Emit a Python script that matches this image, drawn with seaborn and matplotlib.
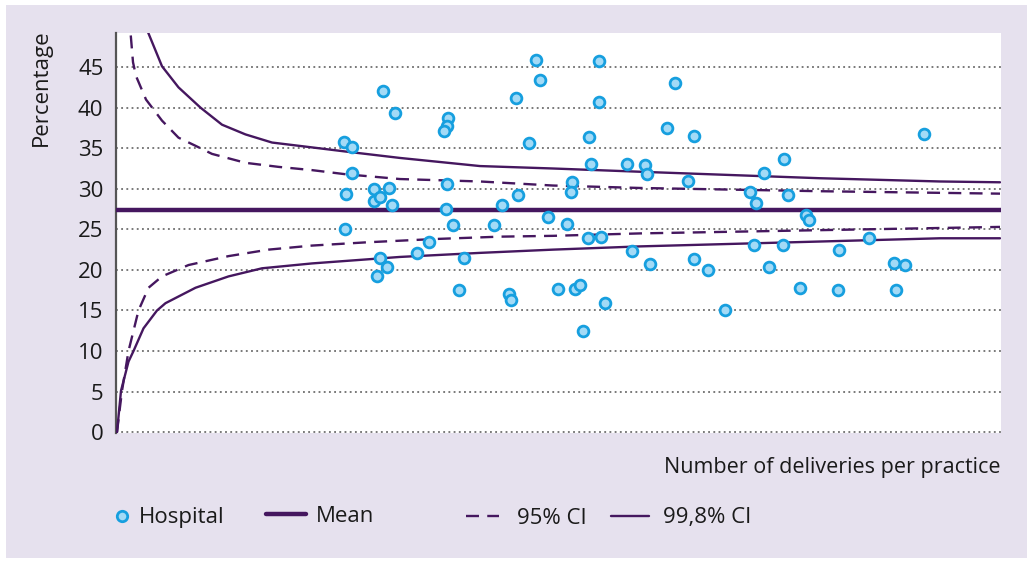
import matplotlib
matplotlib.use("Agg")
import matplotlib.pyplot as plt
import seaborn as sns
import pandas as pd
from matplotlib.lines import Line2D
from matplotlib.patches import Rectangle

# hospital points: deliveries per practice (x) and percentage (y)
hosp_x = [456, 472, 472, 460, 516, 546, 516, 528, 552, 457, 534, 558, 528, 542, 522,
          602, 626, 664, 662, 655, 662, 660, 674, 696, 686, 756, 772, 804, 799, 825,
          839, 847, 785, 789, 863, 884, 902, 912, 909, 917, 928, 933, 943, 945, 949,
          965, 966, 969, 978, 1021, 1031, 1058, 1061, 1068, 1101, 1118, 1144, 1155,
          1156, 1183, 1218, 1267, 1279, 1275, 1295, 1306, 1333, 1336, 1344, 1367,
          1380, 1385, 1445, 1443, 1505, 1555, 1577, 1559, 1615]
hosp_y = [35.8, 35.2, 31.9, 29.4, 30.0, 30.1, 28.5, 29.0, 28.0, 25.0, 42.1, 39.4, 21.5,
          20.4, 19.2, 22.1, 23.4, 38.7, 37.7, 37.1, 30.6, 27.5, 25.5, 21.5, 17.5, 25.5,
          28.0, 29.2, 41.2, 35.6, 45.9, 43.4, 17.0, 16.3, 26.5, 17.7, 25.6, 30.8, 29.6,
          17.7, 18.2, 12.5, 23.9, 36.4, 33.1, 45.7, 40.7, 24.1, 15.9, 33.1, 22.3, 32.9,
          31.8, 20.7, 37.5, 43.0, 30.9, 36.5, 21.3, 20.0, 15.1, 29.6, 28.2, 23.1, 32.0,
          20.3, 23.1, 33.7, 29.2, 17.8, 26.8, 26.1, 22.4, 17.5, 23.9, 20.9, 20.6, 17.5,
          36.7]

mean_pct = 27.4

# control limits
up998_x = [50, 64, 92, 125, 169, 212, 259, 312, 392, 458, 568, 728, 874, 1048, 1228,
           1408, 1648, 1768]
up998_y = [51.5, 49.3, 45.1, 42.5, 40.0, 37.9, 36.7, 35.7, 35.1, 34.6, 33.8, 32.8, 32.5,
           32.1, 31.7, 31.3, 30.9, 30.8]
up95_x = [25, 29, 34, 40, 60, 92, 125, 159, 192, 259, 325, 392, 458, 568, 728, 874,
          1048, 1228, 1408, 1768]
up95_y = [51.5, 49.3, 45.6, 43.9, 41.0, 38.4, 36.3, 35.3, 34.3, 33.2, 32.7, 32.3, 31.8,
          31.2, 30.9, 30.4, 30.1, 29.9, 29.7, 29.4]
lo95_x = [2, 7, 12, 25, 45, 65, 92, 145, 225, 305, 392, 501, 634, 768, 874, 1048, 1228,
          1408, 1768]
lo95_y = [0.0, 2.6, 5.1, 10.0, 15.0, 17.8, 19.2, 20.6, 21.7, 22.5, 23.0, 23.4, 23.8,
          24.1, 24.2, 24.5, 24.7, 24.9, 25.3]
lo998_x = [2, 10, 25, 35, 55, 82, 99, 159, 225, 292, 392, 568, 728, 874, 1048, 1228,
           1408, 1648, 1768]
lo998_y = [0.0, 5.1, 8.7, 10.0, 12.8, 15.0, 15.9, 17.8, 19.2, 20.2, 20.8, 21.6, 22.1,
           22.5, 22.9, 23.2, 23.5, 23.9, 23.9]

yticks = [0, 5, 10, 15, 20, 25, 30, 35, 40, 45]

purple = "#45175f"
pt_face = "#a3daf6"
pt_edge = "#169fdf"
panel = "#e6e1ee"
txt = "#1a1a1a"

sns.set_theme(style="white")
plt.rcParams["font.family"] = ["Open Sans", "DejaVu Sans"]
fs = 16

fig = plt.figure(figsize=(10.33, 5.62), dpi=100)
fig.patch.set_facecolor("white")
fig.patches.append(Rectangle((6 / 1033, 1 - 558 / 562), 1021 / 1033, 553 / 562,
                             transform=fig.transFigure, facecolor=panel,
                             edgecolor="none", zorder=-10))
ax = fig.add_axes([116 / 1033, 1 - 433 / 562, 885 / 1033, 400 / 562])
ax.set_facecolor("white")

ax.set_xlim(0, 1770)
ax.set_ylim(-0.1, 49.2)
ax.set_yticks(yticks)
ax.set_xticks([])
for t in yticks:
    ax.axhline(t, color="#555555", lw=1.1, ls=(0, (1.2, 2.2)), zorder=1)

lw_ci = 1.7
dash = (5.5, 3.5)
sns.lineplot(x=up998_x, y=up998_y, ax=ax, color=purple, lw=lw_ci, sort=False,
             estimator=None, zorder=3)
sns.lineplot(x=lo998_x, y=lo998_y, ax=ax, color=purple, lw=lw_ci, sort=False,
             estimator=None, zorder=3)
sns.lineplot(x=up95_x, y=up95_y, ax=ax, color=purple, lw=lw_ci, sort=False,
             estimator=None, zorder=3)
ax.lines[-1].set_dashes(dash)
sns.lineplot(x=lo95_x, y=lo95_y, ax=ax, color=purple, lw=lw_ci, sort=False,
             estimator=None, zorder=3)
ax.lines[-1].set_dashes(dash)
ax.axhline(mean_pct, color=purple, lw=3.2, zorder=4)

df = pd.DataFrame({"n": hosp_x, "pct": hosp_y})
sns.scatterplot(data=df, x="n", y="pct", ax=ax, s=60, color=pt_face,
                edgecolor=pt_edge, linewidth=2.0, zorder=5)

for s in ["top", "right", "bottom"]:
    ax.spines[s].set_visible(False)
ax.spines["left"].set_color("#555555")
ax.spines["left"].set_linewidth(1.6)
ax.tick_params(axis="y", length=0, pad=9, labelsize=fs, labelcolor=txt)

ax.set_xlabel("")
ax.text(1.0, -0.06, "Number of deliveries per practice", transform=ax.transAxes,
        ha="right", va="top", fontsize=15.5, color=txt)
ax.set_ylabel("Percentage", fontsize=fs, color=txt, loc="top")
ax.yaxis.set_label_coords(-0.072, 1.008)

# legend row: handle, label, left edge (px), row centre (px), handle length, text pad
items = [
    (Line2D([], [], ls="none", marker="o", ms=7.5, mfc=pt_face, mec=pt_edge, mew=2.0),
     "Hospital", 116, 518, 0.54, 0.5),
    (Line2D([], [], color=purple, lw=3.2), "Mean", 266, 516, 1.8, 0.45),
    (Line2D([], [], color=purple, lw=lw_ci, dashes=dash), "95% CI", 466, 518, 1.49, 0.81),
    (Line2D([], [], color=purple, lw=lw_ci), "99,8% CI", 611, 518, 1.71, 0.63),
]
for h, lab, x0, y0, hl, hp in items:
    leg = fig.legend([h], [lab], loc="center left",
                     bbox_to_anchor=(x0 / 1033, 1 - y0 / 562),
                     frameon=False, fontsize=fs, borderpad=0, borderaxespad=0,
                     handlelength=hl, handletextpad=hp)
    for t in leg.get_texts():
        t.set_color(txt)

fig.savefig("out.png", dpi=100, facecolor=fig.get_facecolor())
